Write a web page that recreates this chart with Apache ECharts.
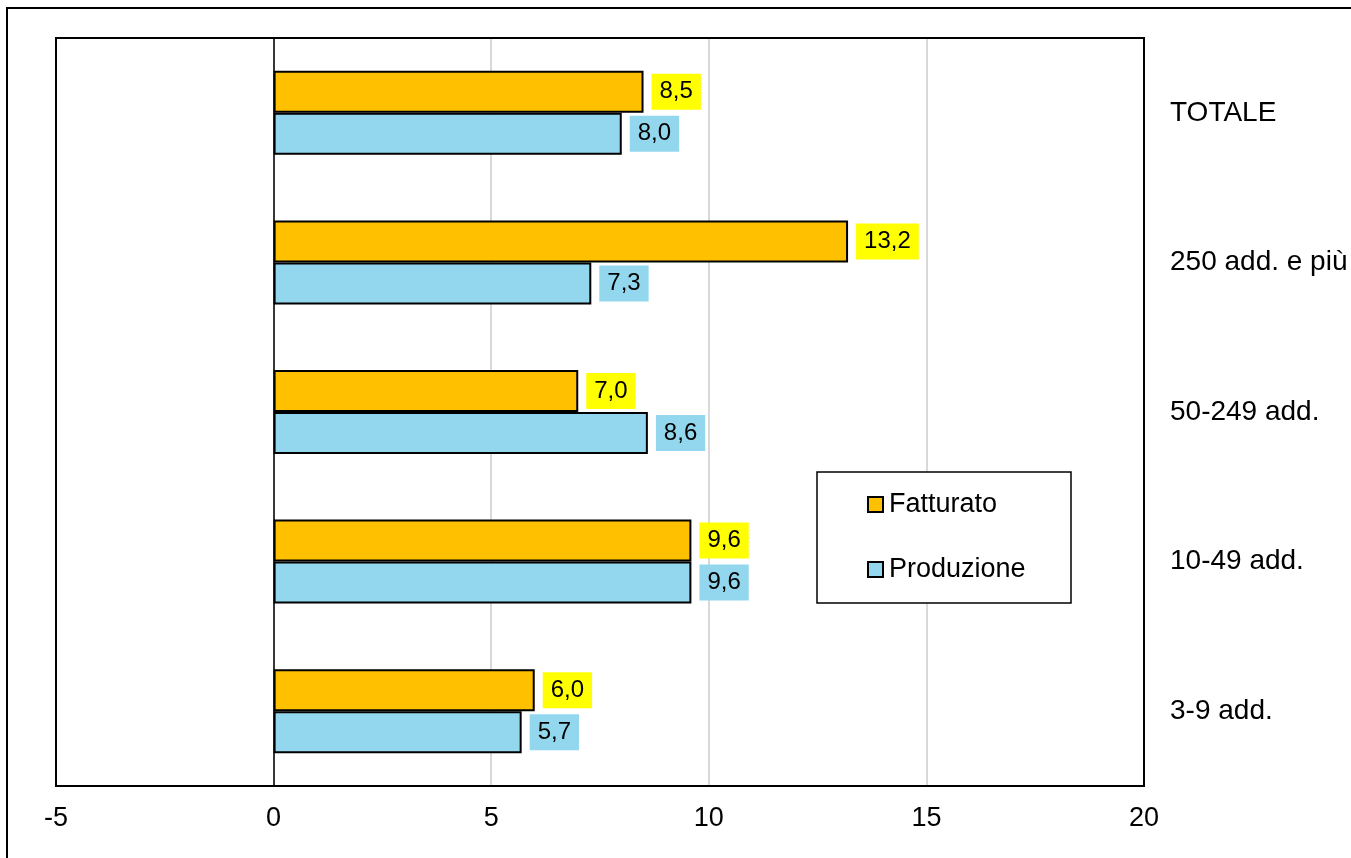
<!DOCTYPE html>
<html>
<head>
<meta charset="utf-8">
<script src="https://cdn.jsdelivr.net/npm/echarts@6/dist/echarts.min.js"></script>
<style>
html,body{margin:0;padding:0;background:#fff;}
#chart{width:1351px;height:858px;}
</style>
</head>
<body>
<div id="chart"></div>
<script>
const categories = ['3-9 add.', '10-49 add.', '50-249 add.', '250 add. e più', 'TOTALE'];
const fatturato = [6.0, 9.6, 7.0, 13.2, 8.5];
const produzione = [5.7, 9.6, 8.6, 7.3, 8.0];
const seriesNames = ['Fatturato', 'Produzione'];
const xTicks = { min: -5, max: 20, interval: 5 };

const FONT = '"Liberation Sans", Arial, sans-serif';
const fmt = p => p.value.toFixed(1).replace('.', ',');

const chart = echarts.init(document.getElementById('chart'), null, { renderer: 'canvas' });
chart.setOption({
  backgroundColor: '#fff',
  animation: false,
  textStyle: { fontFamily: FONT, color: '#000' },
  grid: { left: 56, top: 38, width: 1088, height: 748, show: false },
  graphic: [
    { type: 'rect', z: 100, silent: true, shape: { x: 7, y: 8, width: 1400, height: 900 },
      style: { fill: 'none', stroke: '#000', lineWidth: 2 } },
    { type: 'rect', z: 100, silent: true, shape: { x: 56, y: 38, width: 1088, height: 748 },
      style: { fill: 'none', stroke: '#000', lineWidth: 2 } },
    { type: 'rect', z: 100, silent: true, shape: { x: 817, y: 472, width: 254, height: 131 },
      style: { fill: '#fff', stroke: '#000', lineWidth: 1.5 } }
  ],
  legend: {
    data: seriesNames,
    orient: 'vertical',
    left: 867, top: 491,
    padding: 0,
    itemWidth: 15, itemHeight: 15, itemGap: 38,
    icon: 'rect',
    z: 200,
    textStyle: { fontFamily: FONT, fontSize: 27, color: '#000', padding: [0, 0, 0, 1] }
  },
  xAxis: {
    type: 'value',
    min: xTicks.min, max: xTicks.max, interval: xTicks.interval,
    axisLine: { show: false },
    axisTick: { show: false },
    axisLabel: { fontFamily: FONT, fontSize: 27, color: '#000', margin: 19 },
    splitLine: { show: true, showMinLine: false, showMaxLine: false, lineStyle: { color: '#D9D9D9', width: 2 } }
  },
  yAxis: {
    type: 'category',
    data: categories,
    position: 'right',
    axisLine: { show: false },
    axisTick: { show: false },
    axisLabel: { fontFamily: FONT, fontSize: 28, color: '#000', margin: 26, align: 'left' },
    splitLine: { show: false }
  },
  series: [
    {
      name: seriesNames[0], type: 'bar', data: fatturato,
      barWidth: 42, barGap: '0%',
      itemStyle: { color: '#FFC000', borderColor: '#000', borderWidth: 2 },
      label: { show: true, position: 'right', distance: 8, formatter: fmt,
        fontFamily: FONT, fontSize: 24, lineHeight: 24, color: '#000',
        backgroundColor: '#FFFF00', padding: [6, 8] },
      markLine: {
        silent: true, symbol: 'none', label: { show: false },
        lineStyle: { color: '#000', width: 1.5, type: 'solid' },
        data: [{ xAxis: 0 }]
      }
    },
    {
      name: seriesNames[1], type: 'bar', data: produzione,
      barWidth: 42, barGap: '0%',
      itemStyle: { color: '#93D7EE', borderColor: '#000', borderWidth: 2 },
      label: { show: true, position: 'right', distance: 8, formatter: fmt,
        fontFamily: FONT, fontSize: 24, lineHeight: 24, color: '#000',
        backgroundColor: '#93D7EE', padding: [6, 8] }
    }
  ]
});
</script>
</body>
</html>
